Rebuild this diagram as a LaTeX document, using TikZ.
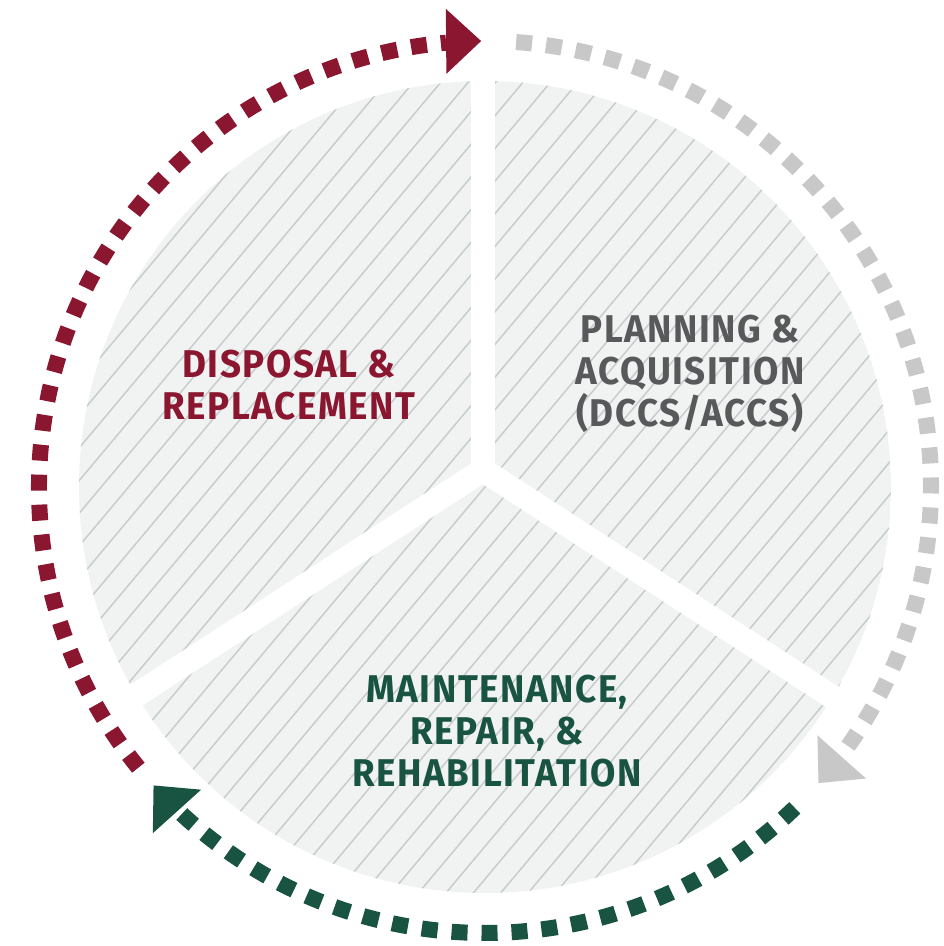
\documentclass[tikz,border=0pt]{standalone}
\usepackage{fontspec}
\setmainfont{Fira Sans}
\newfontfamily\stagefont{Fira Sans}[FakeStretch=0.95, LetterSpace=4]

\definecolor{wine}{RGB}{138,22,48}
\definecolor{pine}{RGB}{25,84,66}
\definecolor{slate}{RGB}{88,89,91}
\definecolor{mist}{RGB}{200,200,200}
\definecolor{piefill}{RGB}{241,243,243}
\definecolor{hatchgray}{RGB}{200,204,204}

\tikzset{
  stage/.style={align=center, inner sep=0pt,
    font=\stagefont\bfseries\fontsize{11}{12}\selectfont},
  hatch/.style={hatchgray, line width=0.15mm},
  gap/.style={white, line width=2.4mm, line cap=round},
  loop/.style={line width=1.6mm, dash pattern=on 1.6mm off 1.4mm},
}

\begin{document}
\begin{tikzpicture}[x=0.1mm,y=0.1mm]
  \useasboundingbox (-485,-459) rectangle (458,487);
  \def\ringr{446}

  % hatched disc
  \begin{scope}
    \clip (0,0) circle (406);
    \fill[piefill] (0,0) circle (406);
    \begin{scope}[rotate=50]
      \foreach \k in {-20,...,20}
        \draw[hatch] (-420,\k*21) -- (420,\k*21);
    \end{scope}
  \end{scope}

  % white gaps between the three sectors
  \coordinate (hub) at (-2,17);
  \foreach \a in {90,213,327}
    \draw[gap] (hub) -- ++(\a:425);

  \node[stage, text=wine] (disposal) at (-196,102) {DISPOSAL \&\\REPLACEMENT};
  \node[stage, text=slate] (planning) at (205,113) {PLANNING \&\\ACQUISITION\\(DCCS/ACCS)};
  \node[stage, text=pine] (maintenance) at (12,-244) {MAINTENANCE,\\REPAIR, \&\\REHABILITATION};

  % dotted loop with a head at the end of each stage
  \foreach \col/\from/\to/\tip in {wine/219/95/90.5, mist/86/-37.1/-41.6, pine/-46/-133.5/-138}
  {
    \draw[loop, \col] (\from:\ringr) arc[start angle=\from, end angle=\to, radius=\ringr];
    \fill[\col, shift={(\tip:\ringr)}, rotate=\tip-90] (0,0) -- (-35,32.5) -- (-35,-32.5) -- cycle;
  }
\end{tikzpicture}
\end{document}
